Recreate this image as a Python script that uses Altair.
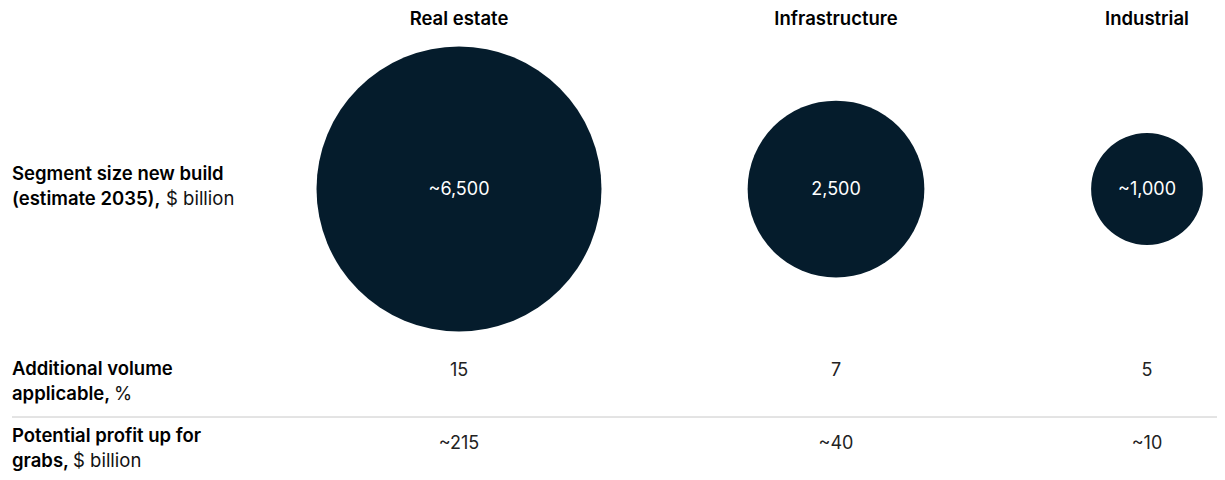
import altair as alt
import pandas as pd

# ---- data ----
segments = ["Real estate", "Infrastructure", "Industrial"]
segment_size = [6500, 2500, 1000]
segment_size_labels = ["~6,500", "2,500", "~1,000"]
additional_volume_labels = ["15", "7", "5"]
profit_labels = ["~215", "~40", "~10"]

row_bold_line1 = ["Segment size new build", "Additional volume", "Potential profit up for"]
row_bold_line2 = ["(estimate 2035),", "applicable,", "grabs,"]
row_regular_line2 = ["$ billion", "%", "$ billion"]

# ---- layout / style ----
W, H = 1209, 464
NAVY = "#051c2c"
TEXT = "#000000"
BOLD_FONT = "Inter"
REG_FONT = "Inter"
LABEL_SIZE = 18.5
COL_RANGE = [451, 828, 1139]          # column centres
ROW_RANGE = [17, 181, 368, 441]       # header, bubble, volume, profit
LABEL_ROW_RANGE = [172, 367, 434]     # first-line baselines of row labels
REGULAR_DX = [154, 102, 61]           # offset of the regular part on line 2
MAX_DIAMETER = 285                    # bubble diameter for the largest value

seg_df = pd.DataFrame({
    "segment": segments,
    "col": list(range(len(segments))),
    "size": segment_size,
    "size_label": segment_size_labels,
    "volume": additional_volume_labels,
    "profit": profit_labels,
})

xenc = alt.X("col:Q", scale=alt.Scale(domain=[0, 1, 2], range=COL_RANGE, zero=False, nice=False), axis=None)


def yrow():
    return alt.Y("r:Q", scale=alt.Scale(domain=[0, 1, 2, 3], range=ROW_RANGE, zero=False, nice=False), axis=None)


base = alt.Chart(seg_df)

headers = base.transform_calculate(r="0").mark_text(
    font=BOLD_FONT, fontSize=LABEL_SIZE, fontWeight=600, color=TEXT, baseline="alphabetic", align="center"
).encode(x=xenc, y=yrow(), text="segment:N")

# Vega circle "size" is the area of the bounding square (diameter^2)
bubbles = base.transform_calculate(r="1").mark_circle(opacity=1, color=NAVY).encode(
    x=xenc, y=yrow(),
    size=alt.Size("size:Q", scale=alt.Scale(domain=[0, max(segment_size)], range=[0, MAX_DIAMETER ** 2], zero=True),
                  legend=None),
)

bubble_text = base.transform_calculate(r="1").mark_text(
    font=REG_FONT, fontSize=18, color="white", baseline="middle", align="center", dy=1
).encode(x=xenc, y=yrow(), text="size_label:N")

volume_text = base.transform_calculate(r="2").mark_text(
    font=REG_FONT, fontSize=18, color="#222222", baseline="alphabetic", align="center"
).encode(x=xenc, y=yrow(), text="volume:N")

profit_text = base.transform_calculate(r="3").mark_text(
    font=REG_FONT, fontSize=18, color="#222222", baseline="alphabetic", align="center"
).encode(x=xenc, y=yrow(), text="profit:N")

# row labels
lab_df = pd.DataFrame({
    "row": [1, 2, 3],
    "b1": row_bold_line1,
    "b2": row_bold_line2,
    "g2": row_regular_line2,
})
ylab = alt.Y("row:Q", scale=alt.Scale(domain=[1, 2, 3], range=LABEL_ROW_RANGE, zero=False, nice=False), axis=None)
lab = alt.Chart(lab_df)
lab1 = lab.mark_text(font=BOLD_FONT, fontSize=LABEL_SIZE, fontWeight=600, color=TEXT, align="left",
                     baseline="alphabetic").encode(x=alt.value(4), y=ylab, text="b1:N")
lab2 = lab.mark_text(font=BOLD_FONT, fontSize=LABEL_SIZE, fontWeight=600, color=TEXT, align="left",
                     baseline="alphabetic", dy=25).encode(x=alt.value(4), y=ylab, text="b2:N")
reg_layers = []
for i in range(3):
    reg_layers.append(
        alt.Chart(lab_df.iloc[[i]]).mark_text(
            font=REG_FONT, fontSize=LABEL_SIZE, fontWeight=400, color="#111111", align="left", baseline="alphabetic",
            dy=25, dx=REGULAR_DX[i],
        ).encode(x=alt.value(4), y=ylab, text="g2:N")
    )

separator = alt.Chart(pd.DataFrame({"a": [0]})).mark_rule(color="#c8c8c8", strokeWidth=1).encode(
    x=alt.value(4), x2=alt.value(W), y=alt.value(409)
)

chart = alt.layer(
    separator, bubbles, headers, bubble_text, volume_text, profit_text, lab1, lab2, *reg_layers
).resolve_scale(y="independent").properties(
    width=W, height=H, padding=0, autosize="none"
).configure_view(stroke=None)

chart.save("out.html", embed_options={"renderer": "svg", "actions": False})
